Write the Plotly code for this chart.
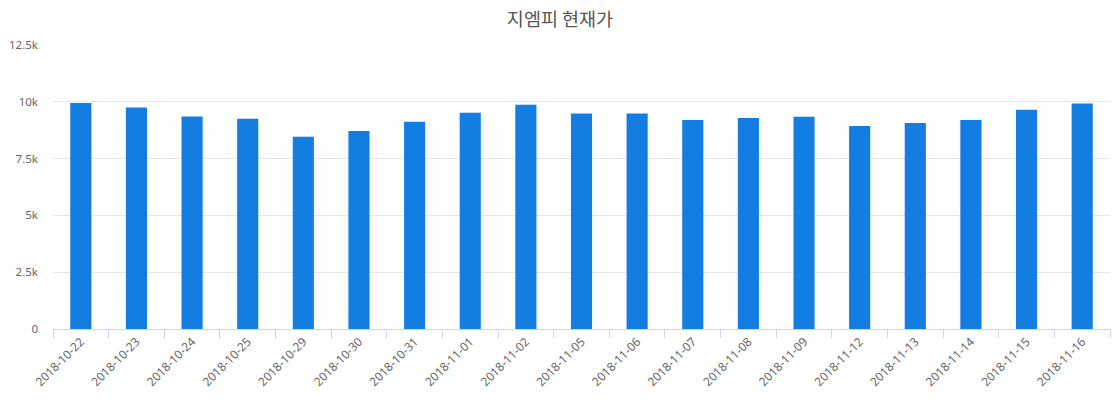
import plotly.graph_objects as go

dates = ["2018-10-22", "2018-10-23", "2018-10-24", "2018-10-25", "2018-10-29",
         "2018-10-30", "2018-10-31", "2018-11-01", "2018-11-02", "2018-11-05",
         "2018-11-06", "2018-11-07", "2018-11-08", "2018-11-09", "2018-11-12",
         "2018-11-13", "2018-11-14", "2018-11-15", "2018-11-16"]
prices = [9950, 9750, 9350, 9250, 8460, 8720, 9120, 9520, 9870, 9480,
          9480, 9200, 9290, 9340, 8940, 9070, 9200, 9650, 9920]

y_tickvals = [0, 2500, 5000, 7500, 10000, 12500]
y_ticktext = ["0", "2.5k", "5k", "7.5k", "10k", "12.5k"]

fig = go.Figure(go.Bar(
    x=dates, y=prices, marker=dict(color="#137de2", line=dict(width=0)),
    hovertemplate="%{x}<br>%{y}<extra></extra>",
))

fig.update_layout(
    width=1120, height=400,
    margin=dict(l=45, r=18, t=37, b=79),
    paper_bgcolor="white", plot_bgcolor="white",
    font=dict(family="Noto Sans, Noto Sans CJK KR, sans-serif", color="#666666", size=11),
    title=dict(text="지엠피 현재가", x=(560 - 8) / 1120, xanchor="center",
               y=1 - 12 / 400, yanchor="middle",
               font=dict(family="Noto Sans CJK KR, sans-serif", size=18.5, color="#555555")),
    bargap=0.62,
    showlegend=False,
    xaxis=dict(
        type="category", tickangle=-45, showgrid=False, automargin=False,
        showline=True, linecolor="#ccd6eb", linewidth=1,
        ticks="outside", tickson="boundaries", ticklen=8, tickcolor="#ccd6eb",
        tickfont=dict(size=12, color="#666666"),
    ),
    yaxis=dict(
        range=[0, 12500], tickvals=y_tickvals, ticktext=y_ticktext,
        showgrid=True, gridcolor="#e6e6e6", gridwidth=1, zeroline=False,
        showline=False, ticks="", ticklabelstandoff=14, automargin=False,
        tickfont=dict(size=11.5, color="#666666"),
    ),
)

fig.write_html("out.html")
